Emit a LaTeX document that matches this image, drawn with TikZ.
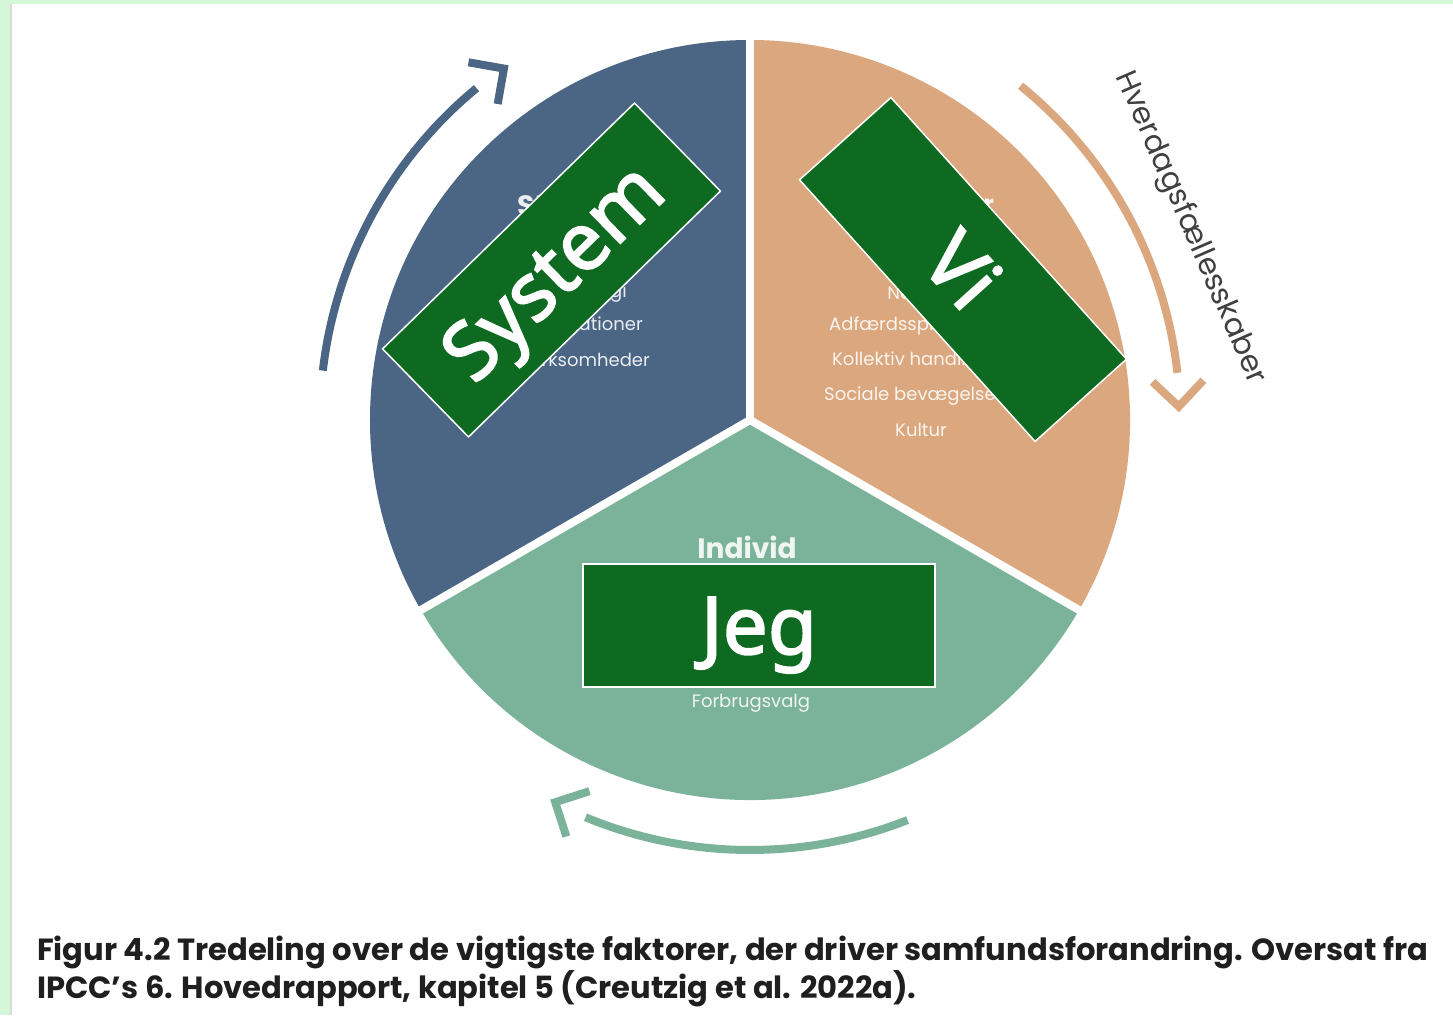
\documentclass[tikz,border=0pt]{standalone}
\usepackage{fontspec}
\setmainfont{Poppins}
\newfontfamily\boxfont{Noto Sans}[FakeBold=2.2]
\definecolor{bluec}{RGB}{75,101,132}
\definecolor{tanc}{RGB}{219,167,126}
\definecolor{greenc}{RGB}{123,179,154}
\definecolor{boxc}{RGB}{14,106,33}
\definecolor{mint}{RGB}{212,247,216}
\tikzset{
  sectortxt/.style={text=white,text opacity=0.88,font=\fontsize{18}{18}\selectfont,inner sep=0pt},
  sectorhead/.style={sectortxt,font=\fontsize{28}{28}\selectfont\bfseries},
  tag/.style={fill=boxc,draw=white,line width=1.5pt,minimum width=352pt,minimum height=123pt,
    text=white,font=\boxfont\fontsize{80}{80}\selectfont,text depth=0pt,inner sep=0pt},
  captxt/.style={anchor=base west,inner sep=0pt,font=\fontsize{30.6}{30.6}\selectfont\bfseries,text=black!88}
}
\begin{document}
\begin{tikzpicture}[x=1pt,y=1pt]
\fill[mint](-750,-595)rectangle(703,420);
\fill[white](-740,-595)rectangle(703,416);
\draw[gray!30,line width=2pt](-739,-595)--(-739,416);
\useasboundingbox(-750,-595)rectangle(703,420);
\fill[bluec](0,0)--(90:380)arc[start angle=90,end angle=210,radius=380]--cycle;
\fill[tanc](0,0)--(-30:380)arc[start angle=-30,end angle=90,radius=380]--cycle;
\fill[greenc](0,0)--(210:380)arc[start angle=210,end angle=330,radius=380]--cycle;
\foreach \a in{90,210,330}\draw[white,line width=8pt](0,0)--(\a:385);
\foreach \s/\e/\c in{51/6.3/tanc,291.5/247.5/greenc,173.4/129.5/bluec}{
\draw[\c,line width=8pt](\s:430)arc[start angle=\s,end angle=\e,radius=430];
\draw[\c,line width=8pt,shift={(\e-4.5:429)}](\e+40.5:36)--(0,0)--(\e+130.5:36);}
\node[sectorhead,anchor=west](struk)at(-233,215){Strukturer};
\node[sectortxt,anchor=east](tek)at(-123,127){Teknologi};
\node[sectortxt,anchor=east](org)at(-107,94){Organisationer};
\node[sectortxt,anchor=east](virk)at(-100,60){Virksomheder};
\node[sectorhead,anchor=east,font=\fontsize{24}{24}\selectfont\bfseries](faell)at(244,216){Fællesskaber};
\node[sectortxt](norm)at(171,127){Normer};
\node[sectortxt,anchor=west](adf)at(79,94){Adfærdsspredning};
\node[sectortxt,anchor=west](koll)at(82,59){Kollektiv handling};
\node[sectortxt,anchor=west](soc)at(74,24){Sociale bevægelser};
\node[sectortxt](kult)at(171,-10){Kultur};
\node[sectorhead](indiv)at(-3,-127){Individ};
\node[sectortxt](forb)at(1,-283){Forbrugsvalg};
\node[tag,rotate=44.3](sys)at(-198.5,150){System};
\node[tag,rotate=-48](vi)at(213,150.5){Vi};
\node[tag](jeg)at(9,-205.5){Jeg};
\node[font=\fontsize{30}{30}\selectfont,text=black!75,rotate=-66.5](hverd)at(440,192){Hverdagsfællesskaber};
\node[captxt](cap1)at(-713,-540){Figur 4.2 Tredeling over de vigtigste faktorer, der driver samfundsforandring. Oversat fra};
\node[captxt](cap2)at(-713,-578){IPCC’s 6. Hovedrapport, kapitel 5 (Creutzig et al. 2022a).};
\end{tikzpicture}
\end{document}
